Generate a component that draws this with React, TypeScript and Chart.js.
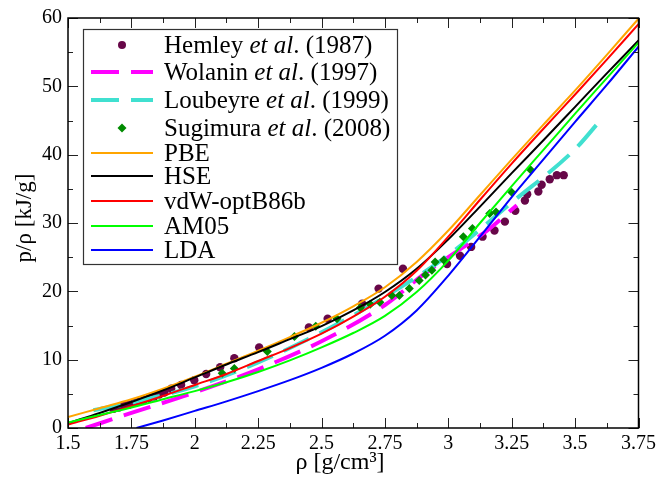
import React, { useEffect, useRef } from "react";
import { Chart, registerables } from "chart.js";
Chart.register(...registerables);

const FONT = '"Liberation Serif", "Times New Roman", Times, serif';

// ---- axis ticks ----
const xTickValues = [1.5, 1.75, 2, 2.25, 2.5, 2.75, 3, 3.25, 3.5, 3.75];
const yTickValues = [0, 10, 20, 30, 40, 50, 60];

// ---- experiments ----
const hemleyRho = [1.68, 1.70, 1.72, 1.74, 1.76, 1.78, 1.80, 1.82, 1.84, 1.86, 1.88, 1.907, 1.946, 1.998, 2.045, 2.1, 2.156, 2.254, 2.45, 2.524, 2.66, 2.725, 2.821, 2.995, 3.046, 3.09, 3.135, 3.182, 3.223, 3.264, 3.302, 3.311, 3.355, 3.368, 3.40, 3.428, 3.455];
const hemleyVal = [2.8, 3.0, 3.3, 3.4, 3.7, 3.9, 4.1, 4.4, 4.6, 4.9, 5.2, 5.75, 6.3, 7.0, 7.9, 8.9, 10.2, 11.8, 14.7, 16.0, 18.2, 20.4, 23.3, 24.0, 25.2, 26.5, 28.0, 28.9, 30.2, 31.8, 33.3, 34.2, 34.6, 35.6, 36.4, 37.0, 37.0];

const sugimuraRho = [2.108, 2.156, 2.286, 2.393, 2.477, 2.561, 2.653, 2.692, 2.73, 2.777, 2.807, 2.846, 2.885, 2.91, 2.935, 2.948, 2.982, 3.059, 3.095, 3.163, 3.188, 3.25, 3.324];
const sugimuraVal = [8.0, 8.7, 11.2, 13.4, 14.9, 16.0, 17.6, 18.1, 18.4, 19.4, 19.4, 20.4, 21.6, 22.4, 23.1, 24.3, 24.6, 28.0, 29.2, 31.4, 31.6, 34.5, 37.8];

const wolaninRho = [1.57, 1.75, 2.0, 2.25, 2.5, 2.75, 2.9, 3.0, 3.15, 3.27];
const wolaninVal = [0, 2.2, 5.2, 8.6, 12.7, 18.0, 22.4, 25.0, 28.8, 32.6];

const loubeyreRho = [1.6, 1.75, 2.0, 2.25, 2.5, 2.75, 3.0, 3.25, 3.5, 3.59];
const loubeyreVal = [2.6, 3.7, 6.1, 9.6, 14.0, 19.2, 25.3, 33.0, 40.8, 44.6];

// ---- DFT curves ----
const dftRho = [1.5, 1.625, 1.75, 1.875, 2.0, 2.125, 2.25, 2.375, 2.5, 2.625, 2.75, 2.875, 3.0, 3.125, 3.25, 3.375, 3.5, 3.625, 3.75];
const pbeVal = [1.6, 2.9, 4.2, 5.75, 7.5, 9.4, 11.3, 13.3, 15.4, 17.8, 20.6, 24.3, 28.9, 34.1, 39.3, 44.4, 49.4, 54.6, 59.9];
const hseVal = [0.7, 2.2, 3.8, 5.5, 7.4, 9.3, 11.1, 13.0, 14.9, 17.2, 19.9, 23.3, 27.6, 32.4, 37.3, 42.1, 47.0, 51.9, 56.7];
const vdwVal = [0.5, 1.8, 3.2, 4.7, 6.3, 7.9, 9.8, 11.7, 13.8, 16.3, 19.2, 23.0, 28.0, 33.4, 38.7, 43.8, 48.8, 53.9, 59.1];
const am05Val = [0.8, 1.9, 3.0, 4.2, 5.4, 6.7, 8.2, 9.9, 11.8, 13.9, 16.4, 19.9, 24.5, 30.0, 35.4, 40.7, 46.0, 51.2, 56.4];
const ldaRho = [1.77, 1.875, 2.0, 2.125, 2.25, 2.375, 2.5, 2.625, 2.75, 2.875, 3.0, 3.125, 3.25, 3.375, 3.5, 3.625, 3.75];
const ldaVal = [0, 1.1, 2.5, 3.9, 5.4, 7.0, 8.8, 10.9, 13.5, 17.2, 22.3, 28.0, 33.8, 39.3, 44.8, 50.2, 55.8];

const MAROON = "#670748";
const GREEN4 = "#008b00";
const MAGENTA = "#ff00ff";
const TURQ = "#40e0d0";
const ORANGE = "#ffa500";
const BLACK = "#000000";
const RED = "#ff0000";
const LGREEN = "#00ff00";
const BLUE = "#0000ff";

type Part = [string, boolean];
const legendRows: { parts: Part[]; kind: string; color: string }[] = [
  { parts: [["Hemley ", false], ["et al", true], [". (1987)", false]], kind: "circle", color: MAROON },
  { parts: [["Wolanin ", false], ["et al", true], [". (1997)", false]], kind: "dash", color: MAGENTA },
  { parts: [["Loubeyre ", false], ["et al", true], [". (1999)", false]], kind: "dash", color: TURQ },
  { parts: [["Sugimura ", false], ["et al", true], [". (2008)", false]], kind: "diamond", color: GREEN4 },
  { parts: [["PBE", false]], kind: "line", color: ORANGE },
  { parts: [["HSE", false]], kind: "line", color: BLACK },
  { parts: [["vdW-optB86b", false]], kind: "line", color: RED },
  { parts: [["AM05", false]], kind: "line", color: LGREEN },
  { parts: [["LDA", false]], kind: "line", color: BLUE },
];
const legendRowY = [45, 72, 100, 128, 153, 176, 201, 226, 250];

const toXY = (xs: number[], ys: number[]) => xs.map((x, i) => ({ x, y: ys[i] }));

const decorPlugin = {
  id: "decor",
  afterDraw(chart: any) {
    const ctx = chart.ctx as CanvasRenderingContext2D;
    const { left, right, top, bottom } = chart.chartArea;
    const xs = chart.scales.x;
    const ys = chart.scales.y;
    ctx.save();
    ctx.strokeStyle = "#222";
    ctx.lineWidth = 1;
    for (let i = 0; i <= 18; i++) {
      const v = 1.5 + i * 0.125;
      const len = i % 2 === 0 ? 10 : 5;
      const px = Math.round(xs.getPixelForValue(v)) + 0.5;
      ctx.beginPath();
      ctx.moveTo(px, bottom);
      ctx.lineTo(px, bottom - len);
      ctx.moveTo(px, top);
      ctx.lineTo(px, top + len);
      ctx.stroke();
    }
    for (let j = 0; j <= 12; j++) {
      const v = j * 5;
      const len = j % 2 === 0 ? 10 : 5;
      const py = Math.round(ys.getPixelForValue(v)) + 0.5;
      ctx.beginPath();
      ctx.moveTo(left, py);
      ctx.lineTo(left + len, py);
      ctx.moveTo(right, py);
      ctx.lineTo(right - len, py);
      ctx.stroke();
    }
    ctx.strokeStyle = "#000";
    ctx.lineWidth = 1.5;
    ctx.strokeRect(left, top, right - left, bottom - top);

    ctx.fillStyle = "#000";
    ctx.font = `24px ${FONT}`;
    ctx.textAlign = "center";
    ctx.textBaseline = "middle";
    ctx.fillText("ρ [g/cm³]", 340, 463);
    ctx.save();
    ctx.translate(25, 218);
    ctx.rotate(-Math.PI / 2);
    ctx.font = `23px ${FONT}`;
    ctx.fillText("p/ρ [kJ/g]", 0, 0);
    ctx.restore();

    const bx = 83.5, by = 29.5, bw = 314, bh = 235;
    ctx.fillStyle = "#fff";
    ctx.fillRect(bx, by, bw, bh);
    ctx.strokeStyle = "#333";
    ctx.lineWidth = 1.2;
    ctx.strokeRect(bx, by, bw, bh);
    legendRows.forEach((row, k) => {
      const y = legendRowY[k];
      ctx.save();
      if (row.kind === "circle") {
        ctx.fillStyle = row.color;
        ctx.beginPath();
        ctx.arc(122, y, 4, 0, Math.PI * 2);
        ctx.fill();
      } else if (row.kind === "diamond") {
        ctx.fillStyle = row.color;
        ctx.beginPath();
        ctx.moveTo(122, y - 4.5);
        ctx.lineTo(126.5, y);
        ctx.lineTo(122, y + 4.5);
        ctx.lineTo(117.5, y);
        ctx.closePath();
        ctx.fill();
      } else if (row.kind === "dash") {
        ctx.strokeStyle = row.color;
        ctx.lineWidth = 4;
        ctx.setLineDash([28, 12]);
        ctx.beginPath();
        ctx.moveTo(91, y);
        ctx.lineTo(153, y);
        ctx.stroke();
      } else {
        ctx.strokeStyle = row.color;
        ctx.lineWidth = 2;
        ctx.beginPath();
        ctx.moveTo(91, y);
        ctx.lineTo(153, y);
        ctx.stroke();
      }
      ctx.restore();
      let tx = 164;
      ctx.fillStyle = "#000";
      ctx.textAlign = "left";
      ctx.textBaseline = "middle";
      row.parts.forEach(([t, it]) => {
        ctx.font = `${it ? "italic " : ""}25px ${FONT}`;
        ctx.fillText(t, tx, y + 1);
        tx += ctx.measureText(t).width;
      });
    });
    ctx.restore();
  },
};

export default function App() {
  const ref = useRef<HTMLCanvasElement>(null);
  useEffect(() => {
    const canvas = ref.current;
    if (!canvas) return;
    const lineDs = (label: string, xs: number[], ys: number[], color: string, order: number) => ({
      label,
      data: toXY(xs, ys),
      showLine: true,
      borderColor: color,
      backgroundColor: color,
      borderWidth: 2,
      pointRadius: 0,
      cubicInterpolationMode: "monotone",
      order,
    });
    const dashDs = (label: string, xs: number[], ys: number[], color: string, order: number) => ({
      ...lineDs(label, xs, ys, color, order),
      borderWidth: 4,
      borderDash: [28, 12],
    });
    const chart = new Chart(canvas, {
      type: "scatter",
      data: {
        datasets: [
          {
            label: "Hemley et al. (1987)",
            data: toXY(hemleyRho, hemleyVal),
            pointStyle: "circle",
            pointRadius: 4.2,
            pointBorderWidth: 0,
            backgroundColor: MAROON,
            borderColor: MAROON,
            showLine: false,
            order: 20,
          },
          dashDs("Wolanin et al. (1997)", wolaninRho, wolaninVal, MAGENTA, 12),
          dashDs("Loubeyre et al. (1999)", loubeyreRho, loubeyreVal, TURQ, 11),
          {
            label: "Sugimura et al. (2008)",
            data: toXY(sugimuraRho, sugimuraVal),
            pointStyle: "rectRot",
            pointRadius: 4.5,
            pointBorderWidth: 0,
            backgroundColor: GREEN4,
            borderColor: GREEN4,
            showLine: false,
            order: 10,
          },
          lineDs("PBE", dftRho, pbeVal, ORANGE, 5),
          lineDs("HSE", dftRho, hseVal, BLACK, 4),
          lineDs("vdW-optB86b", dftRho, vdwVal, RED, 3),
          lineDs("AM05", dftRho, am05Val, LGREEN, 2),
          lineDs("LDA", ldaRho, ldaVal, BLUE, 1),
        ] as any,
      },
      options: {
        responsive: false,
        animation: false,
        layout: { padding: { left: 0, right: 19, top: 14, bottom: 0 } },
        plugins: { legend: { display: false }, tooltip: { enabled: false } },
        scales: {
          x: {
            type: "linear",
            min: 1.5,
            max: 3.75,
            afterBuildTicks: (s: any) => {
              s.ticks = xTickValues.map((v) => ({ value: v }));
            },
            afterFit: (s: any) => {
              s.height = 53;
            },
            grid: { display: false, drawTicks: false },
            border: { display: false },
            ticks: {
              color: "#000",
              padding: 4,
              maxRotation: 0,
              autoSkip: false,
              font: { family: FONT, size: 20 },
              callback: (v: any) => String(Number(v)),
            },
          },
          y: {
            type: "linear",
            min: 0,
            max: 60,
            afterBuildTicks: (s: any) => {
              s.ticks = yTickValues.map((v) => ({ value: v }));
            },
            afterFit: (s: any) => {
              s.width = 68;
            },
            grid: { display: false, drawTicks: false },
            border: { display: false },
            ticks: {
              color: "#000",
              padding: 6,
              autoSkip: false,
              font: { family: FONT, size: 20 },
              callback: (v: any) => String(Number(v)),
            },
          },
        },
      } as any,
      plugins: [decorPlugin],
    });
    return () => chart.destroy();
  }, []);
  return (
    <div style={{ position: "fixed", left: 0, top: 0, width: 660, height: 481, background: "#fff" }}>
      <canvas ref={ref} width={660} height={481} style={{ display: "block" }} />
    </div>
  );
}
